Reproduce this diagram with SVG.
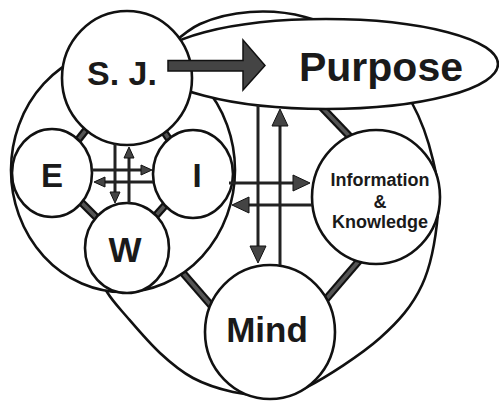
<svg xmlns="http://www.w3.org/2000/svg" width="499" height="401" viewBox="0 0 499 401">
<defs>
<style>
.ln{fill:none;stroke:#111;stroke-width:2.6}
.nd{fill:#fff;stroke:#111;stroke-width:2.6}
.bo{stroke:#111;stroke-width:8;stroke-linecap:butt}
.bi{stroke:#555;stroke-width:3.5;stroke-linecap:butt}
.ar{fill:none;stroke:#222;stroke-width:3}
.t{font-family:"Liberation Sans",Arial,sans-serif;font-weight:bold;fill:#1a1a1a;text-anchor:middle}
</style>
<marker id="hs" markerUnits="userSpaceOnUse" viewBox="0 -6 12 12" markerWidth="12" markerHeight="12" refX="0" refY="0" orient="auto" overflow="visible">
<path d="M-1,-5 L10,0 L-1,5 z" fill="#444" stroke="#111" stroke-width="1"/>
</marker>
<marker id="hl" markerUnits="userSpaceOnUse" viewBox="0 -9 18 18" markerWidth="18" markerHeight="18" refX="0" refY="0" orient="auto" overflow="visible">
<path d="M-1,-8 L16,0 L-1,8 z" fill="#444" stroke="#111" stroke-width="1"/>
</marker>
</defs>
<rect width="499" height="401" fill="#fff"/>

<g id="outer-right">
<path class="ln" d="M165,50 C170.8,45.7 185.8,30.3 200,24 C214.2,17.7 232.5,13.2 250,12 C267.5,10.8 285,11.5 305,17 C325,22.5 352.2,30.7 370,45 C387.8,59.3 401.5,83.8 412,103 C422.5,122.2 428.7,141.7 433,160 C437.3,178.3 439.8,192.2 438,213 C436.2,233.8 431.7,264.2 422,285 C412.3,305.8 399.2,321 380,338 C360.8,355 325.7,377.5 307,387 C288.3,396.5 280.3,394.2 268,395 C255.7,395.8 245.5,394.8 233,392 C220.5,389.2 205.2,384.5 193,378 C180.8,371.5 171,363.2 160,353 C149,342.8 135.8,327.2 127,317 C118.2,306.8 112.3,300.7 107,292 C101.7,283.3 97,269.5 95,265"/>
</g>

<g id="connectors-outer">
<line class="bo" x1="170" y1="258" x2="222" y2="318"/><line class="bi" x1="170" y1="258" x2="222" y2="318"/>
<line class="bo" x1="370" y1="248" x2="315" y2="312"/><line class="bi" x1="370" y1="248" x2="315" y2="312"/>
<line class="bo" x1="310" y1="95" x2="355" y2="142"/><line class="bi" x1="310" y1="95" x2="355" y2="142"/>
</g>

<g id="outer-left">
<ellipse class="nd" cx="123" cy="170" rx="112" ry="122"/>
</g>

<g id="connectors-inner">
<line class="bo" x1="127" y1="78" x2="52" y2="173"/><line class="bi" x1="127" y1="78" x2="52" y2="173"/>
<line class="bo" x1="127" y1="78" x2="193" y2="174"/><line class="bi" x1="127" y1="78" x2="193" y2="174"/>
<line class="bo" x1="52" y1="173" x2="127" y2="248"/><line class="bi" x1="52" y1="173" x2="127" y2="248"/>
<line class="bo" x1="193" y1="174" x2="127" y2="248"/><line class="bi" x1="193" y1="174" x2="127" y2="248"/>
</g>

<g id="purpose">
<ellipse class="nd" cx="326" cy="64" rx="172" ry="45"/>
</g>
<g id="sj"><ellipse class="nd" cx="127" cy="78" rx="65" ry="67"/></g>
<g id="e"><ellipse class="nd" cx="52" cy="173" rx="40" ry="44"/></g>
<g id="i"><ellipse class="nd" cx="193" cy="174" rx="40" ry="44"/></g>
<g id="w"><ellipse class="nd" cx="127" cy="248" rx="42" ry="45"/></g>
<g id="info"><ellipse class="nd" cx="376" cy="197" rx="64" ry="67"/></g>
<g id="mind"><ellipse class="nd" cx="270" cy="332" rx="65" ry="67"/></g>

<g id="connectors">
<polygon points="168,60.5 243,60.5 243,40 265,65.5 243,90 243,71 168,71" fill="#444" stroke="#111" stroke-width="1.5"/>
<line class="ar" x1="115" y1="144" x2="115" y2="193" marker-end="url(#hs)"/>
<line class="ar" x1="129" y1="203" x2="129" y2="157" marker-end="url(#hs)"/>
<line class="ar" x1="92" y1="170" x2="142" y2="170" marker-end="url(#hs)"/>
<line class="ar" x1="153" y1="182" x2="104" y2="182" marker-end="url(#hs)"/>
<line class="ar" x1="258" y1="105" x2="258" y2="247" marker-end="url(#hl)"/>
<line class="ar" x1="280" y1="265" x2="280" y2="125" marker-end="url(#hl)"/>
<line class="ar" x1="229" y1="183" x2="294" y2="183" marker-end="url(#hl)"/>
<line class="ar" x1="312" y1="205" x2="248" y2="205" marker-end="url(#hl)"/>
</g>

<g id="labels">
<text class="t" x="122" y="85" font-size="34">S. J.</text>
<text class="t" x="381" y="81" font-size="41">Purpose</text>
<text class="t" x="52" y="187" font-size="33">E</text>
<text class="t" x="197" y="187" font-size="33">I</text>
<text class="t" x="125" y="262" font-size="35">W</text>
<text class="t" x="380" y="186" font-size="18">Information</text>
<text class="t" x="380" y="208" font-size="18">&amp;</text>
<text class="t" x="380" y="228" font-size="18">Knowledge</text>
<text class="t" x="267" y="342" font-size="35">Mind</text>
</g>
</svg>
